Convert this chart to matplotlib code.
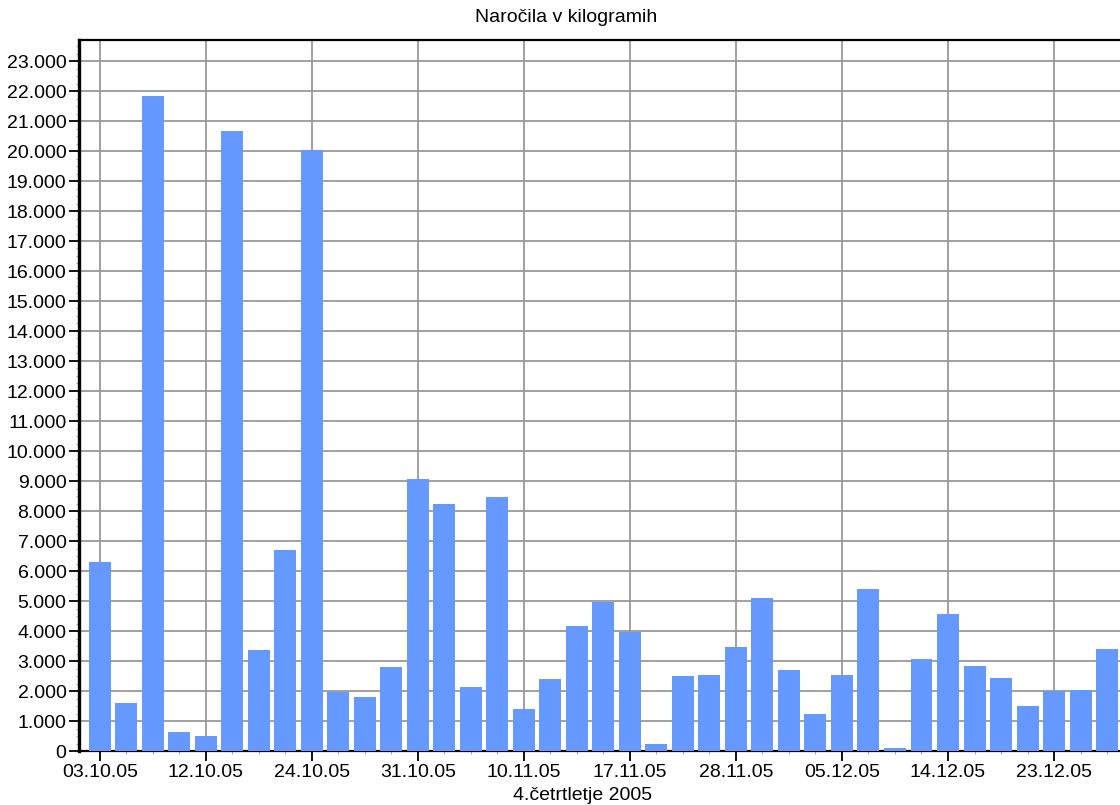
import matplotlib
matplotlib.use("Agg")
import matplotlib.pyplot as plt
from matplotlib.ticker import FixedLocator, FuncFormatter, MultipleLocator
import numpy as np

# Order dates (Q4 2005) and ordered quantities in kilograms
dates = [
    "03.10.05", "05.10.05", "07.10.05", "10.10.05",
    "12.10.05", "14.10.05", "17.10.05", "19.10.05",
    "24.10.05", "25.10.05", "26.10.05", "28.10.05",
    "31.10.05", "03.11.05", "07.11.05", "08.11.05",
    "10.11.05", "11.11.05", "14.11.05", "15.11.05",
    "17.11.05", "21.11.05", "22.11.05", "24.11.05",
    "28.11.05", "29.11.05", "30.11.05", "01.12.05",
    "05.12.05", "06.12.05", "07.12.05", "12.12.05",
    "14.12.05", "15.12.05", "19.12.05", "21.12.05",
    "23.12.05", "27.12.05", "28.12.05",
]
kilograms = [
    6300, 1590, 21830, 620,
    490, 20670, 3356, 6700,
    20030, 1980, 1790, 2790,
    9070, 8230, 2120, 8470,
    1390, 2390, 4160, 4960,
    3970, 222, 2490, 2520,
    3460, 5090, 2690, 1220,
    2520, 5390, 89, 3060,
    4560, 2820, 2420, 1490,
    1990, 2020, 3390,
]

title = "Naročila v kilogramih"
xlabel = "4.četrtletje 2005"
label_every = 4

plt.rcParams["font.family"] = ["Liberation Sans", "DejaVu Sans"]

W, H = 1120, 805
fig = plt.figure(figsize=(W / 100, H / 100), dpi=100)
left, right, top, bottom = 79, 1120, 40, 751
ax = fig.add_axes([left / W, 1 - bottom / H, (right - left) / W, (bottom - top) / H])

x = np.arange(len(dates))
ax.bar(x, kilograms, width=0.83, color="#6699FF", zorder=3)

ax.set_xlim(-0.79, 38.49)
ax.set_ylim(0, 23700)

# y axis: thousands with dot separator
ax.yaxis.set_major_locator(MultipleLocator(1000))
ax.yaxis.set_minor_locator(MultipleLocator(250))
ax.yaxis.set_major_formatter(FuncFormatter(lambda v, p: f"{int(v):,}".replace(",", ".")))

# x axis: every bar gets a minor tick, every fourth a label
major = list(range(0, len(dates), label_every))
ax.xaxis.set_major_locator(FixedLocator(major))
ax.set_xticklabels([dates[i] for i in major])
ax.xaxis.set_minor_locator(FixedLocator([i for i in x if i not in major]))

ax.grid(True, which="major", color="#999999", linewidth=1.3, zorder=0)
ax.set_axisbelow(True)

ax.tick_params(axis="both", which="major", length=7, width=1.3, color="black",
               labelsize=14, pad=2)
ax.tick_params(axis="both", which="minor", length=2.5, width=0.8, color="#aaaaaa")

ax.spines["left"].set_linewidth(2.4)
ax.spines["bottom"].set_linewidth(1.6)
ax.spines["top"].set_linewidth(1.6)
ax.spines["right"].set_visible(False)

fig.text(566 / W, 1 - 18 / H, title, ha="center", va="center", fontsize=14)
fig.text(583 / W, 1 - 795 / H, xlabel, ha="center", va="center", fontsize=14)

fig.savefig("out.png", dpi=100)
